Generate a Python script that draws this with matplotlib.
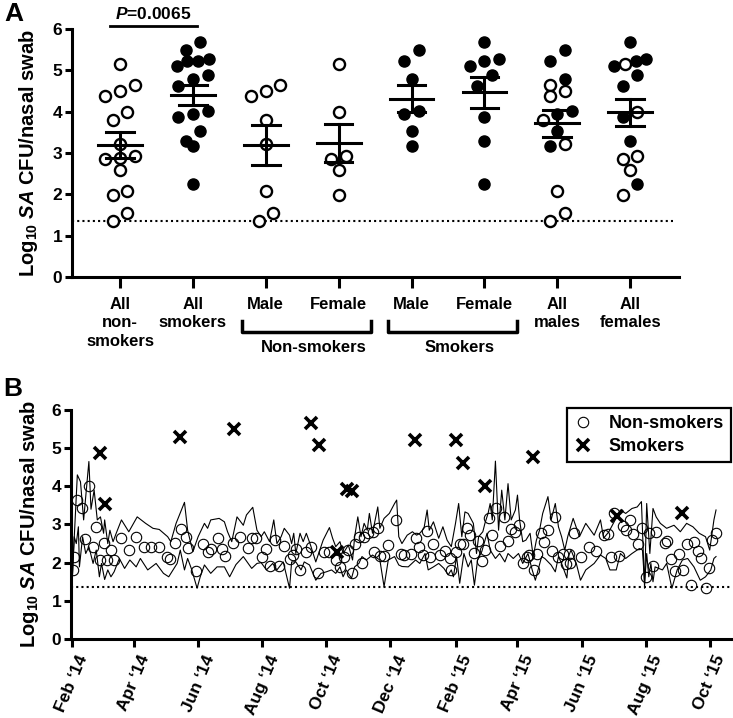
import numpy as np
import matplotlib
matplotlib.use("Agg")
import matplotlib.pyplot as plt
import matplotlib.dates as mdates
from matplotlib.lines import Line2D

plt.rcParams["font.family"] = ["Liberation Sans", "DejaVu Sans"]
plt.rcParams["font.weight"] = "bold"
plt.rcParams["axes.labelweight"] = "bold"
plt.rcParams["mathtext.fontset"] = "custom"
plt.rcParams["mathtext.rm"] = "Liberation Sans:bold"
plt.rcParams["mathtext.bf"] = "Liberation Sans:bold"
plt.rcParams["mathtext.it"] = "Liberation Sans:italic:bold"

# ---- panel A data (log10 SA CFU per nasal swab) ----
ns_male = [4.65, 4.50, 4.38, 3.81, 3.23, 2.09, 1.54, 1.37]
ns_female = [5.15, 3.99, 2.93, 2.87, 2.60, 1.98]
ns_other = [2.89]
sm_male = [5.50, 5.23, 4.79, 4.02, 3.95, 3.54, 3.18]
sm_female = [5.68, 5.27, 5.23, 5.11, 4.89, 4.62, 3.88, 3.30, 2.26]
group_labels = ["All\nnon-\nsmokers", "All\nsmokers", "Male", "Female",
                "Male", "Female", "All\nmales", "All\nfemales"]
detect_limit = 1.35
p_text = "$P$=0.0065"

# ---- panel B data: days after 1 Feb 2014 ----
ns_day = [1, 2, 5, 9, 12, 16, 20, 23, 27, 30, 33, 37, 40, 47, 54, 61, 68, 75, 83, 90,
          93, 98, 104, 108, 110, 118, 125, 129, 132, 139, 143, 146, 153, 160, 167, 171,
          175, 181, 185, 188, 193, 197, 202, 207, 210, 213, 217, 223, 227, 234, 240,
          245, 251, 255, 259, 263, 266, 269, 273, 276, 278, 282, 286, 287, 291, 293,
          297, 301, 308, 313, 316, 323, 327, 330, 334, 338, 341, 344, 350, 355, 360,
          361, 365, 369, 372, 376, 379, 383, 386, 390, 393, 397, 400, 404, 407, 411,
          415, 418, 422, 425, 429, 433, 435, 440, 443, 446, 449, 453, 457, 460, 463,
          467, 470, 473, 474, 478, 484, 492, 499, 506, 510, 513, 516, 521, 524, 527,
          531, 534, 539, 543, 546, 549, 553, 556, 564, 566, 570, 574, 578, 582, 585,
          589, 592, 596, 599, 603, 606, 609, 613]
ns_val = [1.82, 2.16, 3.64, 3.42, 2.62, 4.01, 2.40, 2.94, 2.07, 2.52, 2.07, 2.33, 2.07,
          2.64, 2.33, 2.68, 2.40, 2.40, 2.40, 2.14, 2.09, 2.52, 2.88, 2.68, 2.39, 1.79,
          2.49, 2.29, 2.36, 2.64, 2.36, 2.18, 2.52, 2.68, 2.39, 2.64, 2.64, 2.16, 2.36,
          1.91, 2.59, 1.91, 2.43, 2.09, 2.20, 2.37, 1.82, 2.29, 2.40, 1.74, 2.29, 2.29,
          2.07, 1.89, 2.14, 2.33, 1.74, 2.49, 2.68, 2.00, 2.68, 2.77, 2.81, 2.29, 2.92,
          2.17, 2.17, 2.46, 3.13, 2.23, 2.20, 2.24, 2.65, 2.40, 2.20, 2.84, 2.14, 2.49,
          2.20, 2.31, 2.11, 1.82, 2.29, 2.50, 2.50, 2.92, 2.72, 2.26, 2.57, 2.05, 2.33,
          3.16, 2.72, 3.42, 2.43, 3.20, 2.57, 2.87, 2.81, 2.98, 2.00, 2.16, 2.20, 1.81,
          2.23, 2.77, 2.55, 2.85, 2.31, 3.20, 2.14, 2.24, 1.96, 2.23, 1.98, 2.78, 2.14,
          2.42, 2.31, 2.72, 2.75, 2.16, 3.29, 2.17, 2.96, 2.85, 3.13, 2.75, 2.49, 2.90,
          1.63, 2.78, 1.91, 2.81, 2.52, 2.57, 2.09, 1.79, 2.24, 1.82, 2.50, 1.41, 2.55,
          2.31, 2.11, 1.33, 1.85, 2.59, 2.77]

up_day = [0, 5, 8, 11, 16, 18, 21, 24, 27, 30, 31, 34, 36, 39, 42, 47, 54, 62, 70, 77,
          83, 91, 94, 99, 107, 110, 115, 120, 126, 129, 132, 140, 145, 148, 152, 157,
          163, 166, 172, 176, 180, 183, 188, 192, 195, 199, 202, 207, 209, 211, 213,
          217, 220, 223, 227, 232, 239, 245, 248, 251, 255, 258, 263, 267, 269, 272,
          275, 278, 281, 283, 286, 291, 293, 297, 302, 307, 309, 311, 314, 319, 324,
          328, 331, 335, 338, 340, 344, 349, 353, 357, 361, 365, 368, 371, 374, 377,
          382, 385, 387, 391, 393, 396, 398, 400, 403, 406, 409, 412, 415, 418, 422,
          424, 426, 429, 432, 436, 439, 442, 445, 448, 453, 456, 460, 463, 466, 469,
          472, 477, 483, 489, 497, 503, 506, 511, 516, 522, 527, 533, 538, 542, 545,
          547, 550, 553, 556, 560, 566, 573, 579, 585, 591, 597, 603, 607, 611, 613]
up_val = [1.50, 4.30, 4.12, 3.12, 4.65, 3.40, 3.90, 3.12, 3.20, 2.77, 3.12, 2.50, 2.85,
          2.55, 2.77, 3.12, 2.81, 3.20, 3.03, 2.90, 2.87, 2.68, 2.55, 3.03, 3.58, 2.85,
          2.29, 2.68, 3.03, 2.90, 3.12, 3.16, 3.07, 2.81, 2.55, 3.20, 2.98, 3.25, 3.45,
          2.85, 2.68, 2.81, 2.55, 3.12, 2.50, 2.68, 2.90, 2.72, 2.50, 2.77, 2.24, 2.77,
          2.55, 2.77, 2.46, 2.02, 2.59, 2.92, 2.64, 2.42, 2.55, 2.24, 2.46, 2.07, 2.68,
          3.20, 2.68, 3.03, 2.85, 3.29, 2.77, 3.46, 2.90, 3.16, 3.29, 3.55, 3.64, 2.68,
          2.50, 2.72, 2.81, 2.72, 2.77, 2.90, 3.38, 2.85, 3.07, 2.64, 2.94, 2.59, 2.42,
          3.03, 3.55, 2.68, 3.33, 3.29, 3.03, 2.24, 2.68, 2.81, 3.03, 3.29, 3.55, 3.12,
          4.66, 2.85, 3.90, 3.12, 4.07, 3.12, 3.38, 3.77, 3.12, 2.55, 2.59, 2.77, 2.16,
          2.59, 2.85, 3.29, 3.73, 3.12, 3.55, 2.94, 2.68, 2.33, 2.70, 3.16, 2.68, 3.03,
          2.72, 3.12, 2.64, 2.81, 3.07, 3.38, 3.29, 3.42, 3.46, 3.60, 1.33, 3.55, 2.24,
          3.42, 3.20, 3.03, 2.90, 2.98, 2.81, 3.03, 2.94, 2.77, 2.68, 2.33, 3.12, 3.38]

lo_day = [0, 2, 4, 6, 7, 10, 13, 16, 20, 23, 26, 28, 31, 34, 37, 40, 45, 50, 55, 61,
          65, 72, 80, 87, 92, 100, 103, 107, 110, 114, 119, 122, 126, 132, 138, 145,
          150, 156, 163, 171, 176, 180, 185, 191, 195, 201, 207, 209, 213, 218, 221,
          226, 232, 237, 242, 247, 251, 255, 258, 261, 266, 269, 273, 276, 280, 286,
          293, 297, 301, 307, 311, 314, 320, 327, 331, 336, 339, 344, 349, 354, 358,
          361, 363, 366, 369, 373, 377, 380, 383, 386, 390, 395, 398, 403, 407, 412,
          415, 420, 425, 429, 434, 438, 441, 444, 447, 450, 456, 460, 463, 466, 471,
          473, 475, 480, 484, 489, 497, 503, 508, 512, 518, 522, 527, 533, 540, 543,
          545, 547, 549, 551, 553, 555, 562, 566, 571, 576, 581, 586, 592, 598, 603,
          608, 611, 613]
lo_val = [1.40, 2.68, 2.50, 2.94, 1.89, 2.68, 2.24, 2.42, 1.98, 2.33, 1.63, 1.98, 1.56,
          1.81, 1.63, 1.76, 2.11, 1.85, 2.07, 1.89, 2.11, 1.81, 1.98, 1.72, 1.63, 1.98,
          2.33, 1.81, 2.11, 1.81, 1.33, 1.63, 1.94, 1.72, 1.89, 1.89, 1.63, 1.95, 2.16,
          1.85, 1.98, 2.00, 1.81, 1.98, 1.81, 2.02, 1.33, 2.02, 2.02, 1.81, 2.02, 1.94,
          1.54, 1.72, 1.76, 1.81, 1.72, 1.89, 1.63, 1.81, 1.59, 1.89, 1.98, 2.16, 2.07,
          2.20, 2.07, 1.37, 2.07, 2.16, 1.94, 1.90, 1.89, 2.07, 1.98, 2.24, 1.81, 1.89,
          1.98, 1.85, 1.68, 1.81, 1.63, 2.16, 1.46, 2.24, 1.89, 2.07, 1.41, 2.07, 2.29,
          2.77, 2.33, 2.11, 2.24, 2.02, 2.24, 2.11, 2.24, 1.98, 2.24, 1.81, 1.54, 1.85,
          2.16, 2.11, 1.94, 1.76, 2.16, 1.98, 1.60, 2.20, 2.33, 1.98, 1.54, 1.81, 1.98,
          2.20, 2.11, 1.81, 1.81, 2.24, 2.11, 2.24, 2.37, 2.33, 1.46, 2.24, 1.63, 1.98,
          1.50, 1.89, 1.81, 1.98, 1.33, 1.81, 2.07, 2.11, 1.89, 1.54, 1.63, 1.81, 2.11,
          2.16]

sm_day = [27, 31, 103, 154, 227, 235, 252, 262, 266, 326, 365, 372, 393, 439, 519, 581]
sm_val = [4.88, 3.55, 5.28, 5.49, 5.67, 5.08, 2.29, 3.94, 3.87, 5.21, 5.21, 4.62, 4.01,
          4.78, 3.22, 3.31]
start_date = np.datetime64("2014-02-01")


def row_scatter(values, row_h=0.28, step=0.2, max_w=0.45):
    # group close values into rows and spread each row symmetrically
    order = np.argsort(-np.asarray(values), kind="stable")
    offs = np.zeros(len(values))
    i = 0
    while i < len(order):
        top = values[order[i]]
        j = i
        while j < len(order) and top - values[order[j]] < row_h:
            j += 1
        row = order[i:j][::-1]  # ascending, placed left to right
        n = len(row)
        s = step if n < 2 else min(step, max_w / (n - 1))
        for k, idx in enumerate(row):
            offs[idx] = (k - (n - 1) / 2) * s
        i = j
    return offs


fig = plt.figure(figsize=(7.33, 7.18), dpi=100)

# ---------------- panel A ----------------
axA = fig.add_axes([0.0982, 0.614, 0.828, 0.3454])
groups = [
    (ns_male + ns_female + ns_other, []),
    ([], sm_male + sm_female),
    (ns_male, []),
    (ns_female, []),
    ([], sm_male),
    ([], sm_female),
    (ns_male, sm_male),
    (ns_female, sm_female),
]
for i, (opn, fil) in enumerate(groups):
    vals = np.array(opn + fil, dtype=float)
    filled = np.array([False] * len(opn) + [True] * len(fil))
    offs = row_scatter(vals)
    axA.plot(i + offs[~filled], vals[~filled], "o", ms=8, mfc="white", mec="black",
             mew=1.7, ls="none", zorder=3)
    axA.plot(i + offs[filled], vals[filled], "o", ms=8, mfc="black", mec="black",
             ls="none", zorder=3)
    m = vals.mean()
    se = vals.std(ddof=1) / np.sqrt(len(vals))
    axA.plot([i - 0.3, i + 0.3], [m, m], color="black", lw=2.2, zorder=4)
    axA.plot([i - 0.19, i + 0.19], [m + se, m + se], color="black", lw=2.2, zorder=4)
    axA.plot([i - 0.19, i + 0.19], [m - se, m - se], color="black", lw=2.2, zorder=4)
    axA.plot([i, i], [m - se, m + se], color="black", lw=2.2, zorder=4)

axA.axhline(detect_limit, xmin=0, xmax=0.99, color="black", ls=(0, (1, 1.5)), lw=1.5)
axA.set_xlim(-0.66, 7.67)
axA.set_ylim(0, 6)
axA.set_yticks(range(7))
axA.set_xticks(range(8))
axA.set_xticklabels(group_labels, fontsize=12, linespacing=1.3)
for s in ["top", "right"]:
    axA.spines[s].set_visible(False)
for s in ["left", "bottom"]:
    axA.spines[s].set_linewidth(2.2)
axA.tick_params(axis="y", length=5, width=2.2, labelsize=12.5, pad=2)
axA.tick_params(axis="x", length=8, width=2.2, pad=6)
axA.set_ylabel(r"Log$_{10}$ $\mathit{SA}$ CFU/nasal swab", fontsize=14.5)
axA.yaxis.set_label_coords(-0.052, 0.5)

# significance bar
axA.plot([-0.14, 1.05], [6.08, 6.08], color="black", lw=2, clip_on=False)
axA.text(0.45, 6.17, p_text, ha="center", va="bottom", fontsize=12.5)

# brackets under the sex sub-groups
trA = axA.get_xaxis_transform()
for x0, name in [(2, "Non-smokers"), (4, "Smokers")]:
    axA.plot([x0 - 0.32, x0 - 0.32, x0 + 1.45, x0 + 1.45], [-0.175, -0.22, -0.22, -0.175],
             color="black", lw=2.5, transform=trA, clip_on=False)
    axA.text(x0 + 0.66, -0.255, name, ha="center", va="top", fontsize=12, transform=trA)

# ---------------- panel B ----------------
axB = fig.add_axes([0.0969, 0.110, 0.9, 0.319])
ns_dates = start_date + np.array(ns_day).astype("timedelta64[D]")
up_dates = start_date + np.array(up_day).astype("timedelta64[D]")
lo_dates = start_date + np.array(lo_day).astype("timedelta64[D]")
sm_dates = start_date + np.array(sm_day).astype("timedelta64[D]")

axB.plot(up_dates, up_val, color="black", lw=0.8)
axB.plot(lo_dates, lo_val, color="black", lw=0.8)
axB.plot(ns_dates, ns_val, "o", ms=7.5, mfc="none", mec="black", mew=0.8, ls="none")
axB.plot(sm_dates, sm_val, "x", ms=8, mec="black", mew=2.6, ls="none")
axB.axhline(detect_limit, color="black", ls=(0, (1, 1.5)), lw=1.5)

axB.set_xlim(start_date - np.timedelta64(1, "D"), start_date + np.timedelta64(627, "D"))
axB.set_ylim(0, 6)
axB.set_yticks(range(7))
axB.xaxis.set_major_locator(mdates.MonthLocator(bymonth=[2, 4, 6, 8, 10, 12]))
axB.xaxis.set_major_formatter(mdates.DateFormatter("%b \u2018%y"))
for s in ["top", "right"]:
    axB.spines[s].set_visible(False)
for s in ["left", "bottom"]:
    axB.spines[s].set_linewidth(2.2)
axB.tick_params(axis="y", length=5, width=2.2, labelsize=12.5, pad=2)
axB.tick_params(axis="x", length=6, width=2.2, labelsize=12.5, pad=4)
for lab in axB.get_xticklabels():
    lab.set_rotation(67)
    lab.set_ha("center")
    lab.set_va("top")
axB.set_ylabel(r"Log$_{10}$ $\mathit{SA}$ CFU/nasal swab", fontsize=14.5)
axB.yaxis.set_label_coords(-0.046, 0.5)

handles = [
    Line2D([], [], marker="o", ms=7.5, mfc="none", mec="black", mew=0.8, ls="none"),
    Line2D([], [], marker="x", ms=8, mec="black", mew=2.6, ls="none"),
]
leg = axB.legend(handles, ["Non-smokers", "Smokers"], loc="upper right",
                 bbox_to_anchor=(1.0, 1.01), fontsize=13, fancybox=False,
                 edgecolor="black", framealpha=1, handlelength=1.0, handletextpad=0.9,
                 borderpad=0.4, labelspacing=0.35, borderaxespad=0)
leg.get_frame().set_linewidth(1.6)

fig.text(0.006, 0.997, "A", fontsize=19, fontweight="bold", va="top")
fig.text(0.004, 0.475, "B", fontsize=19, fontweight="bold", va="top")

fig.savefig("out.png", dpi=100)
